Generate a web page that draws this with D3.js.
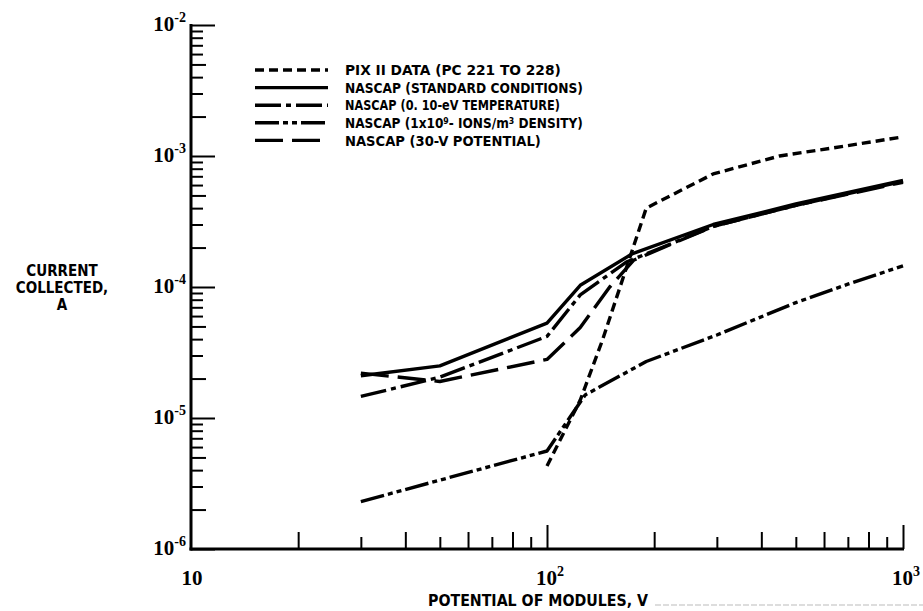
<!DOCTYPE html>
<html><head><meta charset="utf-8">
<script src="https://cdn.jsdelivr.net/npm/d3@7"></script>
<style>
body{margin:0;background:#fff;}
svg{display:block;}
.lbl{font-family:"DejaVu Sans","Liberation Sans",sans-serif;font-stretch:condensed;font-weight:bold;fill:#000;}
.tk{font-family:"Liberation Serif","DejaVu Serif",serif;font-weight:bold;fill:#000;}
</style></head>
<body>
<svg id="c" width="923" height="611"></svg>
<script>
// ---- data ----
const xTickLabels = [{v:10,b:"10",e:""},{v:100,b:"10",e:"2"},{v:1000,b:"10",e:"3"}];
const yTickLabels = [{v:1e-2,e:"-2"},{v:1e-3,e:"-3"},{v:1e-4,e:"-4"},{v:1e-5,e:"-5"},{v:1e-6,e:"-6"}];

const pixV = [100,124,143,190,293,450,700,1000];
const pixI = [4.3e-6,1.37e-5,3.9e-5,4.0e-4,7.3e-4,1.0e-3,1.2e-3,1.4e-3];

const stdV = [30,50,100,124,174,293,500,1000];
const stdI = [2.1e-5,2.5e-5,5.3e-5,1.03e-4,1.8e-4,3.0e-4,4.3e-4,6.5e-4];

const tempV = [30,50,100,124,167,293,500,1000];
const tempI = [1.46e-5,2.05e-5,4.2e-5,8.7e-5,1.55e-4,2.9e-4,4.2e-4,6.4e-4];

const densV = [30,100,128,190,300,500,700,1000];
const densI = [2.3e-6,5.6e-6,1.5e-5,2.7e-5,4.3e-5,7.6e-5,1.05e-4,1.45e-4];

const potV = [30,50,100,124,150,175,293,500,1000];
const potI = [2.2e-5,1.9e-5,2.8e-5,4.9e-5,1.0e-4,1.6e-4,2.9e-4,4.2e-4,6.3e-4];

const seriesNames = ["PIX II DATA (PC 221 TO 228)","NASCAP (STANDARD CONDITIONS)","NASCAP (0. 10-eV TEMPERATURE)","NASCAP (1x10^9- IONS/m^3 DENSITY)","NASCAP (30-V POTENTIAL)"];
const seriesDash = ["9,5","none","26,5,5,5","24,4,5,4,5,4","28,9"];
const legendWidths = [216,238,215,238,196];

// ---- chart ----
const svg = d3.select("#c");
const x = d3.scaleLog().domain([10,1000]).range([191,903]);
const y = d3.scaleLog().domain([1e-6,1e-2]).range([549,25]);

const series = [
  {v:pixV,i:pixI},{v:stdV,i:stdI},{v:tempV,i:tempI},{v:densV,i:densI},{v:potV,i:potI}
].map((s,k)=>({name:seriesNames[k],dash:seriesDash[k],pts:s.v.map((v,j)=>({v:v,i:s.i[j]}))}));

const mant = d=>Math.round(d/Math.pow(10,Math.floor(Math.log10(d)+1e-9)));

// Y axis (ticks point inward)
const yTicks = [];
for(let e=-6;e<=-2;e++){ for(let m=1;m<=9;m++){ const val=m*Math.pow(10,e); if(val<=1e-2*1.0001) yTicks.push(val);} }
const yAx = svg.append("g").attr("transform","translate(191,0)")
  .call(d3.axisRight(y).tickValues(yTicks).tickFormat("").tickSizeOuter(0));
yAx.select(".domain").remove();
yAx.selectAll(".tick line").attr("stroke","#000").attr("stroke-width",2)
  .attr("x2",d=>{const m=mant(d); return m===1?24:(m===2||m===5?15:12);});
svg.append("line").attr("x1",191).attr("x2",191).attr("y1",y(1e-2)-1).attr("y2",y(1e-6)+1.5)
  .attr("stroke","#000").attr("stroke-width",3);

// X axis (ticks point inward/up)
const xTicks = [];
for(let e=1;e<=2;e++){ for(let m=1;m<=9;m++){ xTicks.push(m*Math.pow(10,e)); } }
xTicks.push(1000);
const xAx = svg.append("g").attr("transform","translate(0,549)")
  .call(d3.axisTop(x).tickValues(xTicks.filter(d=>d>10)).tickFormat("").tickSizeOuter(0));
xAx.select(".domain").remove();
xAx.selectAll(".tick line").attr("stroke","#000").attr("stroke-width",2)
  .attr("y2",d=>{const m=mant(d); return m===1?-24:(m%2===0?-17:-12);});
svg.append("line").attr("x1",189.5).attr("x2",x(1000)+1).attr("y1",549).attr("y2",549)
  .attr("stroke","#000").attr("stroke-width",3);

// Tick labels
yTickLabels.forEach(t=>{
  const tx = svg.append("text").attr("class","tk").attr("x",186).attr("y",y(t.v)+6)
    .attr("text-anchor","end").style("font-size","21px");
  tx.append("tspan").text("10");
  tx.append("tspan").attr("dy",-9).style("font-size","14px").text(t.e);
});
xTickLabels.forEach(t=>{
  const tx = svg.append("text").attr("class","tk").attr("x",x(t.v)+(t.e?3:1)).attr("y",585)
    .attr("text-anchor","middle").style("font-size","21px");
  tx.append("tspan").text(t.b);
  if(t.e) tx.append("tspan").attr("dy",-9).style("font-size","14px").text(t.e);
});

// Axis titles
const yt = svg.append("text").attr("class","lbl").attr("text-anchor","middle").style("font-size","15px");
["CURRENT","COLLECTED,","A"].forEach((s,k)=>yt.append("tspan").attr("x",62).attr("y",276+k*17).text(s));
svg.append("text").attr("class","lbl").attr("x",538).attr("y",606).attr("text-anchor","middle")
  .style("font-size","16px").attr("textLength",220).attr("lengthAdjust","spacingAndGlyphs")
  .text("POTENTIAL OF MODULES, V");
svg.append("line").attr("x1",655).attr("x2",923).attr("y1",605).attr("y2",605)
  .attr("stroke","#bbb").attr("stroke-width",1).attr("stroke-dasharray","6,2");

// Curves
const line = d3.line().x(d=>x(d.v)).y(d=>y(d.i));
svg.append("g").selectAll("path").data(series).join("path")
  .attr("d",d=>line(d.pts)).attr("fill","none").attr("stroke","#000")
  .attr("stroke-width",3.4).attr("stroke-linejoin","round")
  .attr("stroke-dasharray",d=>d.dash);

// Legend
const lg = svg.append("g");
series.forEach((s,k)=>{
  const yy = 70 + k*17.6;
  lg.append("line").attr("x1",255).attr("x2",328).attr("y1",yy).attr("y2",yy)
    .attr("stroke","#000").attr("stroke-width",3.4).attr("stroke-dasharray",s.dash);
  const t = lg.append("text").attr("class","lbl").attr("x",345).attr("y",yy+5).style("font-size","14px");
  const parts = s.name.split(/(\^\d)/);
  let pendingDown = false;
  parts.forEach(p=>{
    if(p==="") return;
    if(p.startsWith("^")){ t.append("tspan").attr("dy",-4).style("font-size","9px").text(p.slice(1)); pendingDown = true; }
    else { const ts = t.append("tspan").text(p); if(pendingDown){ ts.attr("dy",4); pendingDown=false; } }
  });
  const w = t.node().getComputedTextLength();
  const sx = legendWidths[k]/w;
  t.attr("transform",`translate(345,${yy}) scale(${sx},1.06) translate(-345,${-yy})`);
});
</script>
</body></html>
